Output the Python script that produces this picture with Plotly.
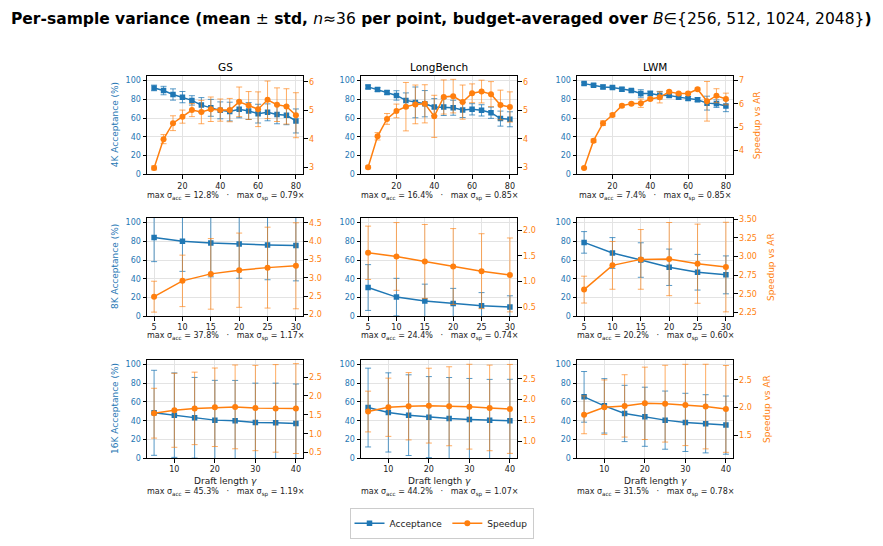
import plotly.graph_objects as go

# ---------------- data ----------------
X_4K = [5, 10, 15, 20, 25, 30, 35, 40, 45, 50, 55, 60, 65, 70, 75, 80]
X_8K = [5, 10, 15, 20, 25, 30]
X_16K = [5, 10, 15, 20, 25, 30, 35, 40]

DATASETS = ["GS", "LongBench", "LWM"]
ROW_LABELS = ["4K Acceptance (%)", "8K Acceptance (%)", "16K Acceptance (%)"]

GS_4K_ACC = [92.2, 89.4, 85.2, 82.4, 78.9, 73.9, 71.0, 68.3, 67.0, 69.4, 67.6, 64.8, 66.2, 64.0, 63.0, 57.0]
GS_4K_ACC_STD = [3.0, 4.5, 6.0, 6.0, 5.0, 8.0, 9.0, 9.0, 10.0, 9.0, 9.0, 10.0, 9.0, 10.0, 10.0, 12.8]
GS_4K_SP = [2.98, 3.99, 4.55, 4.78, 5.01, 4.94, 5.04, 5.01, 5.01, 5.30, 5.17, 5.04, 5.37, 5.20, 5.14, 4.83]
GS_4K_SP_STD = [0.07, 0.16, 0.26, 0.23, 0.23, 0.41, 0.43, 0.39, 0.41, 0.52, 0.49, 0.61, 0.66, 0.59, 0.62, 0.79]

LB_4K_ACC = [93.3, 90.5, 87.3, 84.2, 78.9, 76.8, 75.4, 71.8, 71.8, 71.1, 68.7, 69.4, 68.3, 65.8, 59.5, 58.8]
LB_4K_ACC_STD = [2.0, 2.0, 2.0, 5.0, 8.0, 16.4, 14.0, 9.0, 9.0, 8.0, 8.0, 6.0, 6.0, 6.0, 8.0, 8.0]
LB_4K_SP = [3.00, 4.09, 4.70, 4.98, 5.13, 5.21, 5.23, 4.79, 5.47, 5.50, 5.29, 5.60, 5.66, 5.57, 5.19, 5.12]
LB_4K_SP_STD = [0.05, 0.13, 0.19, 0.24, 0.85, 0.68, 0.67, 0.74, 0.60, 0.59, 0.60, 0.33, 0.40, 0.44, 0.52, 0.53]

LWM_4K_ACC = [96.8, 95.0, 93.3, 92.6, 90.8, 89.4, 86.3, 86.3, 84.5, 84.2, 82.4, 81.0, 79.6, 76.0, 75.4, 72.9]
LWM_4K_ACC_STD = [1.5, 1.5, 2.0, 1.5, 2.0, 1.5, 4.0, 2.5, 4.0, 2.0, 2.0, 2.0, 2.0, 7.4, 4.0, 6.0]
LWM_4K_SP = [3.25, 4.42, 5.17, 5.52, 5.92, 6.01, 6.03, 6.21, 6.28, 6.52, 6.44, 6.45, 6.63, 6.11, 6.35, 6.21]
LWM_4K_SP_STD = [0.03, 0.07, 0.10, 0.07, 0.06, 0.05, 0.18, 0.05, 0.24, 0.05, 0.05, 0.05, 0.05, 0.85, 0.30, 0.25]

GS_8K_ACC = [84.1, 79.9, 78.1, 77.0, 76.0, 75.6]
GS_8K_ACC_STD = [25.8, 32.0, 36.0, 36.4, 37.0, 37.8]
GS_8K_SP = [2.49, 2.92, 3.11, 3.21, 3.28, 3.33]
GS_8K_SP_STD = [0.42, 0.70, 0.96, 1.01, 1.10, 1.17]

LB_8K_ACC = [30.7, 20.5, 16.3, 13.8, 11.3, 9.9]
LB_8K_ACC_STD = [24.4, 20.0, 18.0, 16.0, 14.0, 12.0]
LB_8K_SP = [1.558, 1.487, 1.39, 1.29, 1.20, 1.127]
LB_8K_SP_STD = [0.52, 0.66, 0.72, 0.74, 0.73, 0.72]

LWM_8K_ACC = [78.8, 67.5, 60.0, 52.3, 47.0, 44.2]
LWM_8K_ACC_STD = [11.5, 16.4, 18.4, 19.4, 19.0, 20.2]
LWM_8K_SP = [2.558, 2.883, 2.963, 2.967, 2.905, 2.86]
LWM_8K_SP_STD = [0.18, 0.32, 0.40, 0.49, 0.53, 0.60]

GS_16K_ACC = [48.4, 45.9, 43.1, 40.6, 39.9, 38.2, 37.8, 37.1]
GS_16K_ACC_STD = [45.3, 45.0, 43.0, 42.4, 43.0, 41.8, 42.2, 42.0]
GS_16K_SP = [1.543, 1.62, 1.67, 1.70, 1.71, 1.68, 1.67, 1.665]
GS_16K_SP_STD = [0.66, 0.98, 0.96, 1.04, 1.11, 1.13, 1.16, 1.19]

LB_16K_ACC = [54.0, 48.8, 45.9, 43.8, 42.4, 41.3, 40.6, 39.9]
LB_16K_ACC_STD = [42.0, 42.2, 43.0, 43.2, 43.6, 43.7, 43.4, 44.2]
LB_16K_SP = [1.713, 1.816, 1.84, 1.855, 1.84, 1.83, 1.80, 1.776]
LB_16K_SP_STD = [0.49, 0.70, 0.81, 0.90, 0.95, 1.02, 1.03, 1.07]

LWM_16K_ACC = [65.4, 55.8, 47.7, 44.2, 40.6, 38.2, 36.7, 35.3]
LWM_16K_ACC_STD = [27.0, 29.0, 30.0, 31.5, 31.0, 31.0, 31.0, 31.0]
LWM_16K_SP = [1.87, 2.006, 2.03, 2.076, 2.07, 2.047, 2.018, 1.976]
LWM_16K_SP_STD = [0.34, 0.49, 0.56, 0.65, 0.69, 0.73, 0.76, 0.78]

X_TICKS = [[20, 40, 60, 80], [5, 10, 15, 20, 25, 30], [10, 20, 30, 40]]
Y_TICKS = [0, 20, 40, 60, 80, 100]
Y2_TICKS = [
    [[3, 4, 5, 6], [3, 4, 5, 6], [4, 5, 6, 7]],
    [[2.0, 2.5, 3.0, 3.5, 4.0, 4.5], [0.5, 1.0, 1.5, 2.0], [2.25, 2.5, 2.75, 3.0, 3.25, 3.5]],
    [[0.5, 1.0, 1.5, 2.0, 2.5], [1.0, 1.5, 2.0, 2.5], [1.5, 2.0, 2.5]],
]

ROWS = [
    (X_4K, [(GS_4K_ACC, GS_4K_ACC_STD, GS_4K_SP, GS_4K_SP_STD),
            (LB_4K_ACC, LB_4K_ACC_STD, LB_4K_SP, LB_4K_SP_STD),
            (LWM_4K_ACC, LWM_4K_ACC_STD, LWM_4K_SP, LWM_4K_SP_STD)]),
    (X_8K, [(GS_8K_ACC, GS_8K_ACC_STD, GS_8K_SP, GS_8K_SP_STD),
            (LB_8K_ACC, LB_8K_ACC_STD, LB_8K_SP, LB_8K_SP_STD),
            (LWM_8K_ACC, LWM_8K_ACC_STD, LWM_8K_SP, LWM_8K_SP_STD)]),
    (X_16K, [(GS_16K_ACC, GS_16K_ACC_STD, GS_16K_SP, GS_16K_SP_STD),
             (LB_16K_ACC, LB_16K_ACC_STD, LB_16K_SP, LB_16K_SP_STD),
             (LWM_16K_ACC, LWM_16K_ACC_STD, LWM_16K_SP, LWM_16K_SP_STD)]),
]

# ---------------- layout / style ----------------
W, H = 883, 546
FONT = "DejaVu Sans"
BLUE = "#1f77b4"
ORANGE = "#ff7f0e"
BLUE_ERR = "rgba(31,119,180,0.75)"
ORANGE_ERR = "rgba(255,127,14,0.65)"
GRID = "#e3e3e3"
TICK_SIZE = 8

COLS_PX = [(147, 303), (361, 517), (577, 733)]
ROWS_PX = [(74, 174), (218, 318), (362, 462)]
X_RANGES = [[1.25, 83.75], [3.75, 31.25], [3.25, 41.75]]
Y2_RANGES = [
    [[2.75, 6.21], [2.75, 6.21], [2.97, 7.2]],
    [[1.955, 4.635], [0.32, 2.24], [2.2, 3.52]],
    [[0.35, 2.96], [0.59, 2.96], [1.09, 2.86]],
]
Y2_FMT = [["d", "d", "d"], [".1f", ".1f", ".2f"], [".1f", ".1f", ".1f"]]
STATS_Y = [196, 338, 497]
RIGHT_LABEL_X = [757, 771, 767]


def px(xp):
    return xp / W


def py(yp):
    return 1 - yp / H


fig = go.Figure()
layout = {}
annotations = []

for r, (xs, panels) in enumerate(ROWS):
    for c, (acc, acc_sd, sp, sp_sd) in enumerate(panels):
        i = r * 3 + c
        xn = i + 1
        ya = 2 * i + 1
        yb = 2 * i + 2
        xname = "x" if xn == 1 else f"x{xn}"
        yaname = "y" if ya == 1 else f"y{ya}"
        ybname = f"y{yb}"
        x0, x1 = COLS_PX[c]
        t0, t1 = ROWS_PX[r]

        layout["xaxis" if xn == 1 else f"xaxis{xn}"] = dict(
            domain=[px(x0), px(x1)], anchor=yaname, range=X_RANGES[r],
            tickvals=X_TICKS[r], showgrid=True, gridcolor=GRID, gridwidth=1,
            zeroline=False, showline=True, linecolor="black", linewidth=1, mirror=True,
            ticks="outside", ticklen=3.5, tickwidth=0.8, tickcolor="black",
            tickfont=dict(family=FONT, size=TICK_SIZE, color="#222"),
        )
        layout["yaxis" if ya == 1 else f"yaxis{ya}"] = dict(
            domain=[py(t1), py(t0)], anchor=xname, range=[0, 105],
            tickvals=Y_TICKS, showgrid=True, gridcolor=GRID, gridwidth=1,
            zeroline=False, showline=True, linecolor="black", linewidth=1,
            ticks="outside", ticklen=3.5, tickwidth=0.8, tickcolor="black",
            tickfont=dict(family=FONT, size=TICK_SIZE, color=BLUE),
        )
        layout[f"yaxis{yb}"] = dict(
            overlaying=yaname, side="right", anchor=xname, range=Y2_RANGES[r][c],
            tickvals=Y2_TICKS[r][c], tickformat=Y2_FMT[r][c], showgrid=False,
            zeroline=False, showline=True, linecolor="black", linewidth=1,
            ticks="outside", ticklen=3.5, tickwidth=0.8, tickcolor="black",
            tickfont=dict(family=FONT, size=TICK_SIZE, color=ORANGE),
        )

        fig.add_trace(go.Scatter(
            x=xs, y=acc, xaxis=xname, yaxis=yaname, name="Acceptance",
            mode="lines+markers", legendgroup="acc", showlegend=(i == 0),
            line=dict(color=BLUE, width=1.5),
            marker=dict(symbol="square", size=5.5, color=BLUE),
            error_y=dict(type="data", array=acc_sd, color=BLUE_ERR, thickness=1, width=3),
        ))
        fig.add_trace(go.Scatter(
            x=xs, y=sp, xaxis=xname, yaxis=ybname, name="Speedup",
            mode="lines+markers", legendgroup="sp", showlegend=(i == 0),
            line=dict(color=ORANGE, width=1.5),
            marker=dict(symbol="circle", size=6, color=ORANGE),
            error_y=dict(type="data", array=sp_sd, color=ORANGE_ERR, thickness=1, width=3),
        ))

        annotations.append(dict(
            x=px((x0 + x1) / 2), y=py(STATS_Y[r]), xref="paper", yref="paper",
            text=(f"max σ<sub>acc</sub> = {max(acc_sd):.1f}%   ·   "
                  f"max σ<sub>sp</sub> = {max(sp_sd):.2f}×"),
            showarrow=False, xanchor="center", yanchor="middle",
            font=dict(family=FONT, size=8, color="#222"),
        ))
        if r == 0:
            annotations.append(dict(
                x=px((x0 + x1) / 2), y=py(65), xref="paper", yref="paper",
                text=DATASETS[c], showarrow=False, xanchor="center", yanchor="middle",
                font=dict(family=FONT, size=10.5, color="black"),
            ))
        if r == 2:
            annotations.append(dict(
                x=px((x0 + x1) / 2), y=py(485), xref="paper", yref="paper",
                text="Draft length <i>γ</i>", showarrow=False, xanchor="center",
                yanchor="middle", font=dict(family=FONT, size=9, color="#222"),
            ))
        if c == 0:
            annotations.append(dict(
                x=px(115), y=py((t0 + t1) / 2), xref="paper", yref="paper",
                text=ROW_LABELS[r], showarrow=False, textangle=-90,
                xanchor="center", yanchor="middle",
                font=dict(family=FONT, size=9, color=BLUE),
            ))
        if c == 2:
            annotations.append(dict(
                x=px(RIGHT_LABEL_X[r]), y=py((t0 + t1) / 2), xref="paper", yref="paper",
                text="Speedup vs AR", showarrow=False, textangle=-90,
                xanchor="center", yanchor="middle",
                font=dict(family=FONT, size=9, color=ORANGE),
            ))

annotations.append(dict(
    x=0.5, y=py(16), xref="paper", yref="paper", showarrow=False,
    xanchor="center", yanchor="middle",
    text=("<b>Per-sample variance (mean </b>±<b> std, </b><i>n</i>≈36"
          "<b> per point, budget-averaged over </b><i>B</i>∈{256, 512, 1024, 2048}<b>)</b>"),
    font=dict(family=FONT, size=15.5, color="black"),
))

fig.update_layout(
    width=W, height=H, margin=dict(l=0, r=0, t=0, b=0),
    paper_bgcolor="white", plot_bgcolor="white",
    annotations=annotations,
    legend=dict(
        orientation="h", x=0.5, y=py(528), xanchor="center", yanchor="middle",
        bordercolor="#cccccc", borderwidth=1, bgcolor="white",
        font=dict(family=FONT, size=9, color="#222"),
        itemwidth=30,
    ),
    **layout,
)

fig.write_html("out.html")
